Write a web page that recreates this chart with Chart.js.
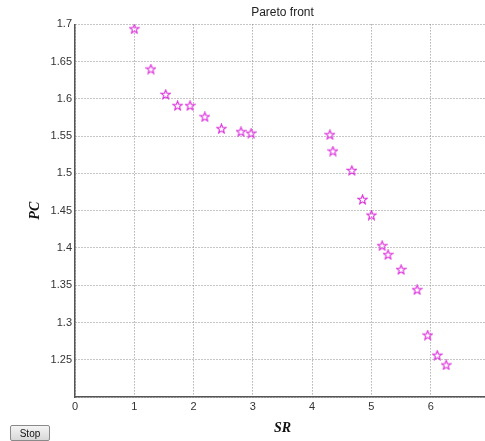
<!DOCTYPE html>
<html>
<head>
<meta charset="utf-8">
<script src="https://cdn.jsdelivr.net/npm/chart.js@4"></script>
<style>
  html, body { margin:0; padding:0; background:#fff; overflow:hidden; width:485px; height:441px; }
  #wrap { position:relative; width:500px; height:441px; }
  #stop {
    position:absolute; left:10px; top:425px; width:40px; height:16px;
    font:10px "Liberation Sans", Arial, sans-serif; color:#111;
    border:1px solid #8a8a8a; border-radius:2px;
    background:linear-gradient(#f4f4f4, #d8d8d8); padding:0;
  }
</style>
</head>
<body>
<div id="wrap">
  <canvas id="chart" width="500" height="441"></canvas>
  <button id="stop">Stop</button>
</div>
<script>
// Pareto front points
const sr = [1.00, 1.28, 1.53, 1.73, 1.94, 2.19, 2.47, 2.80, 2.97, 4.30, 4.35, 4.67, 4.85, 5.00, 5.18, 5.28, 5.50, 5.77, 5.95, 6.11, 6.26]
const pc = [1.694, 1.640, 1.606, 1.591, 1.591, 1.576, 1.560, 1.556, 1.554, 1.552, 1.530, 1.504, 1.465, 1.444, 1.403, 1.391, 1.371, 1.344, 1.283, 1.256, 1.243]

const xMin = 0, xMax = 7, xStep = 1
const yMin = 1.2, yMax = 1.7, yStep = 0.05

// pentagram marker, like matlab 'p'
function starMarker(){
  const c = document.createElement('canvas')
  c.width = 11; c.height = 11
  const g = c.getContext('2d')
  g.strokeStyle = '#dc2edc'
  g.lineWidth = 1.1
  g.beginPath()
  for(let i=0;i<10;i++){
    const r = i%2 ? 2.1 : 4.8
    const a = -Math.PI/2 + i*Math.PI/5
    const px = 5.5 + r*Math.cos(a), py = 5.8 + r*Math.sin(a)
    if(i==0) g.moveTo(px,py); else g.lineTo(px,py)
  }
  g.closePath()
  g.stroke()
  return c
}

const points = sr.map((x,i)=>({x, y: pc[i]}))
const tickFont = {family:'"Liberation Sans", Arial, sans-serif', size:11}
const gridStyle = {color:'#8c8c8c', lineWidth:1, drawTicks:false}

new Chart(document.getElementById('chart'), {
  type: 'scatter',
  data: {
    datasets: [{
      data: points,
      pointStyle: starMarker(),
      pointRadius: 5,
      pointHoverRadius: 5
    }]
  },
  options: {
    animation: false,
    responsive: false,
    events: [],
    layout: {padding: {left:0, right:10, top:0, bottom:0}},
    plugins: {
      legend: {display:false},
      tooltip: {enabled:false},
      title: {
        display: true,
        text: 'Pareto front',
        fullSize: false,
        color: '#222',
        font: {family:'"Liberation Sans", Arial, sans-serif', size:12, weight:'normal'},
        padding: {top:5, bottom:5}
      }
    },
    scales: {
      x: {
        type: 'linear',
        min: xMin, max: xMax,
        ticks: {stepSize: xStep, color:'#333', font: tickFont, padding: 3},
        grid: gridStyle,
        border: {display:true, color:'#555', width:1.5, dash:[1,2]},
        title: {
          display: true, text: 'SR', color:'#111',
          font: {family:'"Liberation Serif", "Times New Roman", serif', size:14, style:'italic', weight:'bold'},
          padding: {top:0, bottom:4}
        },
        afterFit: s => { s.height = 44 }
      },
      y: {
        type: 'linear',
        min: yMin, max: yMax,
        ticks: {
          stepSize: yStep, color:'#333', font: tickFont, padding: 3,
          callback: v => Math.abs(v - yMin) < 1e-9 ? '' : +v.toFixed(2)
        },
        grid: gridStyle,
        border: {display:true, color:'#555', width:1.5, dash:[1,2]},
        title: {
          display: true, text: 'PC', color:'#111',
          font: {family:'"Liberation Serif", "Times New Roman", serif', size:14, style:'italic', weight:'bold'},
          padding: {top:27, bottom:0}
        },
        afterFit: s => { s.width = 75 }
      }
    }
  }
})
</script>
</body>
</html>
